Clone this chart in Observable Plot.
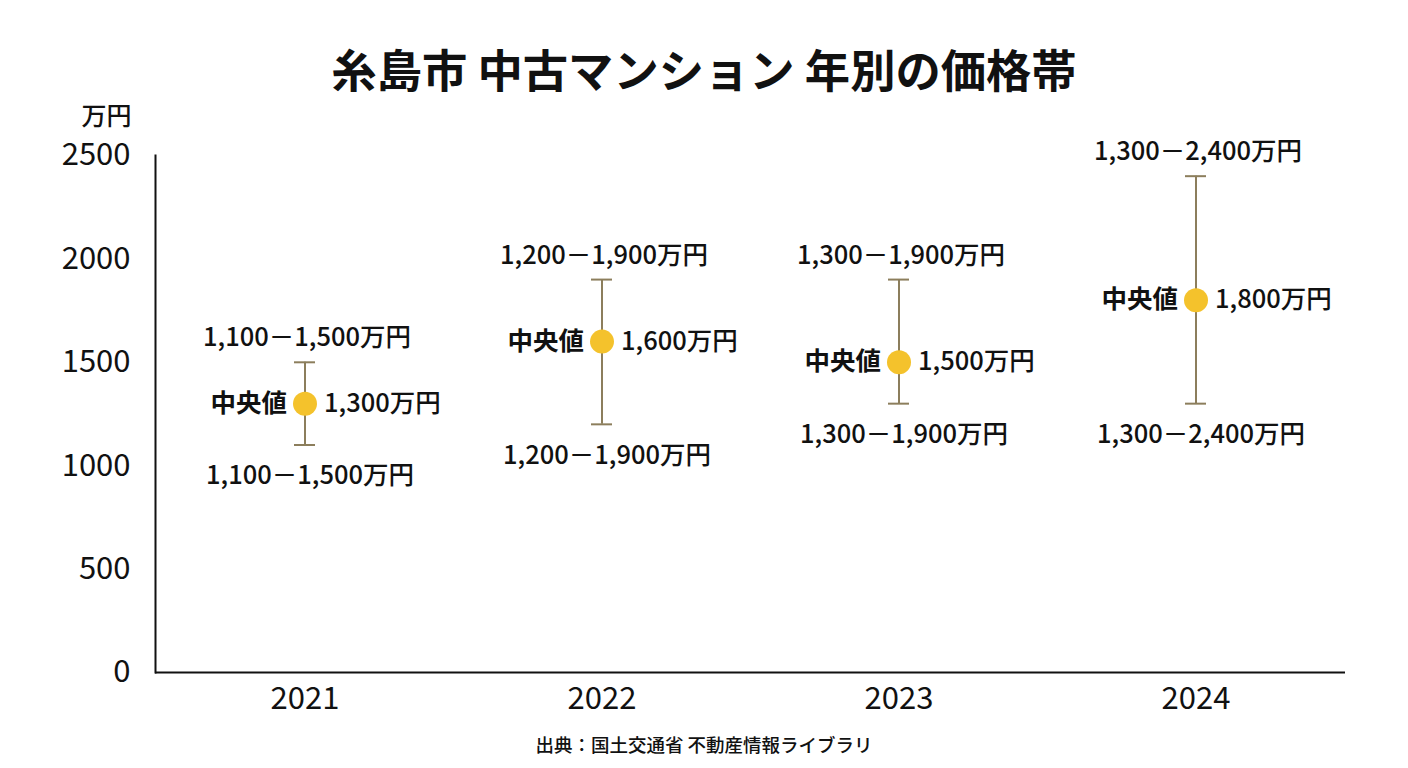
<!DOCTYPE html>
<html>
<head>
<meta charset="utf-8">
<script src="https://cdn.jsdelivr.net/npm/d3@7"></script>
<script src="https://cdn.jsdelivr.net/npm/@observablehq/plot@0.6"></script>
<style>
  html, body { margin: 0; padding: 0; background: #fff; }
  body { width: 1408px; height: 768px; overflow: hidden; font-family: "Noto Sans CJK JP", "Noto Sans", sans-serif; color: #111; }
  #title { height: 100px; box-sizing: border-box; padding-top: 46px; text-align: center; font-size: 45.3px; font-weight: 700; line-height: 1; }
  #caption { text-align: center; font-size: 18.5px; font-weight: 500; line-height: 1; margin-top: 5px; }
  svg { overflow: visible; }
</style>
</head>
<body>
<div id="title">糸島市 中古マンション 年別の価格帯</div>
<div id="chart"></div>
<div id="caption">出典：国土交通省 不動産情報ライブラリ</div>
<script>
const years = ["2021", "2022", "2023", "2024"];
const lows = [1100, 1200, 1300, 1300];
const highs = [1500, 1900, 1900, 2400];
const medians = [1300, 1600, 1500, 1800];
const yTicks = [0, 500, 1000, 1500, 2000, 2500];
const yUnit = "万円";
const medianLabel = "中央値";

const rows = years.map((y, i) => ({year: y, low: lows[i], high: highs[i], median: medians[i]}));
const fmt = d3.format(",");
const rangeText = d => `${fmt(d.low)}－${fmt(d.high)}万円`;

const FONT = "'Noto Sans CJK JP', sans-serif";
const barColor = "#8C7E5C";
const dotColor = "#F4C22C";

const plot = Plot.plot({
  width: 1408,
  height: 630,
  marginLeft: 155,
  marginRight: 63,
  marginTop: 55,
  marginBottom: 58,
  style: {fontFamily: FONT, color: "#111", background: "#fff"},
  x: {type: "band", domain: years, padding: 0, label: null},
  y: {domain: [0, 2500], label: null},
  marks: [
    Plot.axisY({ticks: yTicks, tickSize: 0, tickPadding: 25, fontSize: 31, tickFormat: d => String(d), label: null}),
    Plot.axisX({tickSize: 0, tickPadding: 14, fontSize: 31, label: null}),
    Plot.text([yUnit], {frameAnchor: "top-left", dx: 131 - 155, dy: -39, textAnchor: "end", lineAnchor: "middle", fontSize: 25, fontWeight: 500, fill: "#111"}),
    Plot.frame({anchor: "left", stroke: "#111", strokeWidth: 2}),
    Plot.ruleY([0], {stroke: "#111", strokeWidth: 2}),
    Plot.ruleX(rows, {x: "year", y1: "low", y2: "high", stroke: barColor, strokeWidth: 2}),
    Plot.tickY(rows, {x: "year", y: "low", stroke: barColor, strokeWidth: 2, insetLeft: 138, insetRight: 138}),
    Plot.tickY(rows, {x: "year", y: "high", stroke: barColor, strokeWidth: 2, insetLeft: 138, insetRight: 138}),
    Plot.dot(rows, {x: "year", y: "median", r: 12, fill: dotColor, stroke: "none"}),
    Plot.text(rows, {x: "year", y: "high", text: rangeText, dy: -24, dx: 2, fontSize: 25.5, fontWeight: 500, fill: "#111"}),
    Plot.text(rows, {x: "year", y: "low", text: rangeText, dy: 31, dx: 5, fontSize: 25.5, fontWeight: 500, fill: "#111"}),
    Plot.text(rows, {x: "year", y: "median", text: () => medianLabel, dx: -18, textAnchor: "end", fontSize: 25.5, fontWeight: 700, fill: "#111"}),
    Plot.text(rows, {x: "year", y: "median", text: d => `${fmt(d.median)}万円`, dx: 19, textAnchor: "start", fontSize: 25.5, fontWeight: 500, fill: "#111"})
  ]
});
document.getElementById("chart").appendChild(plot);
</script>
</body>
</html>
